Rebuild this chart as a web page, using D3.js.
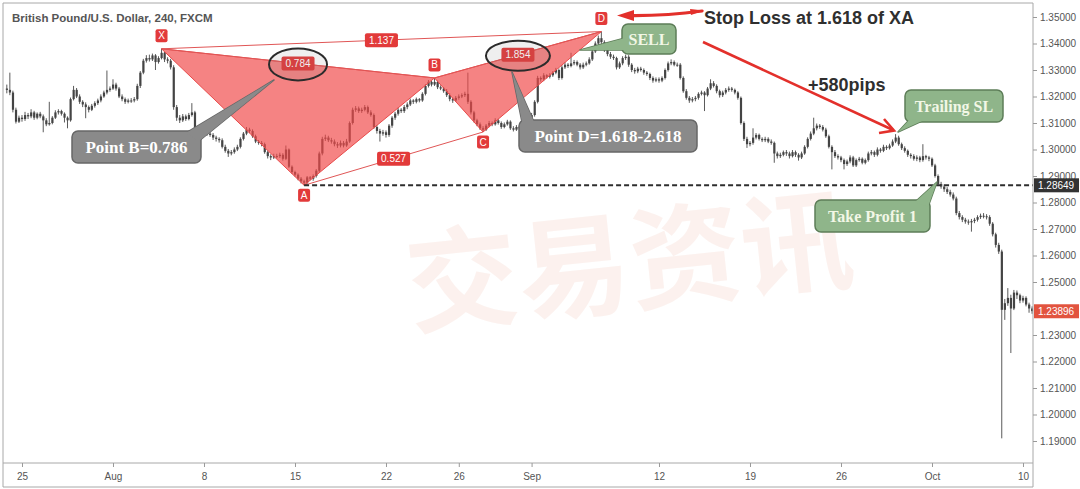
<!DOCTYPE html>
<html><head><meta charset="utf-8">
<script src="https://cdn.jsdelivr.net/npm/d3@7"></script>
<style>body{margin:0;background:#fff;} svg{display:block;}</style>
</head><body><svg id="c" width="1080" height="489"></svg>
<script>
// ---------------- data ----------------
const title = "British Pound/U.S. Dollar, 240, FXCM";
// 4-hour bars, first bar = Jul 22 (index 0); Jul 25 starts at index 5
const tickBars = [5, 35, 65, 95, 125, 149, 173, 215, 245, 275, 305, 335];
const tickLabels = ["25", "Aug", "8", "15", "22", "26", "Sep", "12", "19", "26", "Oct", "10"];
const priceTicks = [1.19, 1.20, 1.21, 1.22, 1.23, 1.25, 1.26, 1.27, 1.28, 1.29, 1.30, 1.31, 1.32, 1.33, 1.34, 1.35];

const opens = [
1.3230,1.3225,1.3215,1.3150,1.3105,
1.3120,1.3115,1.3130,1.3125,1.3140,1.3120,
1.3135,1.3125,1.3110,1.3095,1.3100,1.3120,
1.3140,1.3145,1.3135,1.3120,1.3110,1.3190,
1.3225,1.3200,1.3180,1.3170,1.3160,1.3150,
1.3165,1.3175,1.3185,1.3200,1.3215,1.3225,
1.3230,1.3245,1.3230,1.3200,1.3190,1.3180,
1.3185,1.3185,1.3190,1.3240,1.3290,1.3335,
1.3345,1.3340,1.3355,1.3330,1.3345,1.3365,
1.3340,1.3335,1.3310,1.3160,1.3120,1.3110,
1.3125,1.3115,1.3130,1.3140,1.3060,1.3050,
1.3065,1.3070,1.3060,1.3055,1.3045,1.3040,
1.3035,1.3010,1.2995,1.2985,1.2990,1.3000,
1.3010,1.3040,1.3060,1.3075,1.3070,1.3050,
1.3030,1.3025,1.3020,1.2990,1.2975,1.2970,
1.2975,1.2975,1.2980,1.2965,1.3000,1.2935,
1.2915,1.2905,1.2890,1.2880,1.2875,1.2895,
1.2890,1.2900,1.2920,1.2985,1.3040,1.3045,
1.3035,1.3030,1.3020,1.3015,1.3025,1.3015,
1.3030,1.3100,1.3150,1.3155,1.3145,1.3150,
1.3160,1.3140,1.3130,1.3085,1.3070,1.3060,
1.3065,1.3055,1.3090,1.3120,1.3135,1.3150,
1.3145,1.3160,1.3170,1.3185,1.3180,1.3190,
1.3185,1.3210,1.3240,1.3255,1.3245,1.3255,
1.3235,1.3230,1.3220,1.3205,1.3190,1.3185,
1.3195,1.3200,1.3205,1.3210,1.3180,1.3140,
1.3110,1.3095,1.3080,1.3075,1.3090,1.3100,
1.3095,1.3110,1.3100,1.3085,1.3095,1.3105,
1.3080,1.3075,1.3085,1.3080,1.3110,1.3125,
1.3120,1.3130,1.3180,1.3270,1.3265,1.3280,
1.3275,1.3280,1.3290,1.3300,1.3270,1.3310,
1.3320,1.3315,1.3325,1.3330,1.3320,1.3310,
1.3320,1.3325,1.3340,1.3370,1.3400,1.3420,
1.3405,1.3375,1.3360,1.3350,1.3345,1.3310,
1.3325,1.3345,1.3350,1.3320,1.3300,1.3295,
1.3305,1.3300,1.3290,1.3285,1.3270,1.3260,
1.3265,1.3260,1.3270,1.3300,1.3325,1.3330,
1.3320,1.3320,1.3270,1.3220,1.3195,1.3185,
1.3190,1.3195,1.3210,1.3215,1.3205,1.3230,
1.3250,1.3240,1.3220,1.3205,1.3215,1.3225,
1.3230,1.3225,1.3215,1.3195,1.3100,1.3040,
1.3020,1.3025,1.3045,1.3055,1.3040,1.3035,
1.3040,1.3030,1.3025,1.2985,1.2975,1.2980,
1.2990,1.2985,1.2975,1.2990,1.2980,1.2970,
1.2985,1.3010,1.3040,1.3060,1.3080,1.3090,
1.3085,1.3075,1.3050,1.3010,1.2990,1.2975,
1.2970,1.2960,1.2945,1.2955,1.2970,1.2940,
1.2960,1.2965,1.2950,1.2960,1.2985,1.2990,
1.2980,1.3000,1.2995,1.3010,1.3005,1.3015,
1.3030,1.3045,1.3020,1.3005,1.2995,1.2980,
1.2975,1.2965,1.2970,1.2960,1.2975,1.2970,
1.2965,1.2940,1.2900,1.2870,1.2860,1.2850,
1.2840,1.2830,1.2815,1.2760,1.2745,1.2735,
1.2728,1.2725,1.2730,1.2735,1.2745,1.2750,
1.2748,1.2745,1.2720,1.2680,1.2640,1.2615,
1.2395,1.2420,1.2440,1.2400,1.2460,1.2450,
1.2430,1.2440,1.2415,1.2400];

const highs = [
1.3245,1.3290,1.3222,1.3158,1.3128,
1.3130,1.3142,1.3138,1.3152,1.3146,1.3140,
1.3142,1.3132,1.3118,1.3180,1.3126,1.3148,
1.3152,1.3150,1.3140,1.3125,1.3196,1.3240,
1.3232,1.3208,1.3186,1.3178,1.3166,1.3172,
1.3182,1.3192,1.3208,1.3222,1.3298,1.3238,
1.3265,1.3252,1.3236,1.3208,1.3196,1.3192,
1.3194,1.3198,1.3248,1.3296,1.3342,1.3356,
1.3358,1.3362,1.3360,1.3352,1.3380,1.3368,
1.3348,1.3342,1.3318,1.3168,1.3130,1.3134,
1.3132,1.3138,1.3175,1.3146,1.3068,1.3072,
1.3080,1.3076,1.3068,1.3062,1.3052,1.3046,
1.3042,1.3018,1.3002,1.2998,1.3008,1.3018,
1.3046,1.3066,1.3085,1.3082,1.3076,1.3056,
1.3036,1.3032,1.3026,1.2996,1.2982,1.2984,
1.2984,1.2988,1.2986,1.3015,1.3004,1.2940,
1.2920,1.2910,1.2896,1.2886,1.2900,1.2900,
1.2906,1.2926,1.2992,1.3048,1.3056,1.3052,
1.3044,1.3038,1.3028,1.3034,1.3032,1.3040,
1.3106,1.3158,1.3164,1.3162,1.3158,1.3168,
1.3166,1.3148,1.3136,1.3092,1.3078,1.3074,
1.3072,1.3096,1.3126,1.3142,1.3158,1.3156,
1.3168,1.3178,1.3192,1.3190,1.3196,1.3194,
1.3216,1.3246,1.3262,1.3260,1.3270,1.3260,
1.3242,1.3236,1.3228,1.3212,1.3196,1.3202,
1.3208,1.3212,1.3218,1.3290,1.3186,1.3146,
1.3116,1.3102,1.3088,1.3096,1.3108,1.3106,
1.3118,1.3116,1.3106,1.3102,1.3112,1.3110,
1.3088,1.3092,1.3090,1.3116,1.3132,1.3130,
1.3138,1.3186,1.3278,1.3276,1.3288,1.3284,
1.3288,1.3296,1.3308,1.3306,1.3318,1.3330,
1.3326,1.3365,1.3338,1.3336,1.3326,1.3328,
1.3332,1.3348,1.3378,1.3408,1.3430,1.3445,
1.3412,1.3384,1.3368,1.3358,1.3350,1.3332,
1.3352,1.3358,1.3356,1.3326,1.3308,1.3312,
1.3312,1.3306,1.3296,1.3290,1.3276,1.3272,
1.3272,1.3276,1.3306,1.3332,1.3340,1.3336,
1.3328,1.3326,1.3276,1.3228,1.3202,1.3198,
1.3202,1.3216,1.3222,1.3220,1.3236,1.3265,
1.3258,1.3246,1.3226,1.3222,1.3232,1.3238,
1.3236,1.3230,1.3220,1.3200,1.3106,1.3048,
1.3032,1.3080,1.3062,1.3060,1.3046,1.3048,
1.3046,1.3038,1.3030,1.2992,1.2988,1.2996,
1.2998,1.2992,1.2998,1.2996,1.2986,1.2992,
1.3016,1.3046,1.3068,1.3120,1.3098,1.3096,
1.3092,1.3082,1.3056,1.3016,1.2998,1.2982,
1.2976,1.2966,1.2962,1.2978,1.2976,1.2966,
1.2972,1.2970,1.2966,1.2992,1.2998,1.2996,
1.3008,1.3006,1.3018,1.3016,1.3022,1.3038,
1.3058,1.3052,1.3026,1.3012,1.3000,1.2986,
1.2982,1.2978,1.2976,1.3020,1.2980,1.2976,
1.2970,1.2946,1.2906,1.2878,1.2868,1.2858,
1.2848,1.2838,1.2822,1.2768,1.2752,1.2742,
1.2736,1.2738,1.2742,1.2752,1.2758,1.2760,
1.2756,1.2752,1.2726,1.2686,1.2648,1.2622,
1.2436,1.2477,1.2452,1.2470,1.2468,1.2456,
1.2448,1.2446,1.2422,1.2408];

const lows = [
1.3212,1.3205,1.3140,1.3098,1.3100,
1.3105,1.3108,1.3115,1.3118,1.3112,1.3114,
1.3118,1.3065,1.3088,1.3090,1.3095,1.3115,
1.3132,1.3128,1.3102,1.3080,1.3105,1.3185,
1.3194,1.3172,1.3160,1.3118,1.3140,1.3145,
1.3158,1.3168,1.3178,1.3195,1.3208,1.3218,
1.3225,1.3222,1.3194,1.3182,1.3172,1.3174,
1.3176,1.3178,1.3184,1.3232,1.3284,1.3328,
1.3332,1.3334,1.3300,1.3324,1.3340,1.3330,
1.3325,1.3302,1.3150,1.3108,1.3100,1.3104,
1.3108,1.3110,1.3124,1.3052,1.3040,1.3044,
1.3058,1.3052,1.3048,1.3036,1.3030,1.3026,
1.3004,1.2988,1.2972,1.2978,1.2984,1.2994,
1.3004,1.3034,1.3054,1.3062,1.3044,1.3024,
1.3018,1.3012,1.2984,1.2966,1.2960,1.2964,
1.2966,1.2968,1.2958,1.2960,1.2930,1.2908,
1.2898,1.2884,1.2872,1.2865,1.2870,1.2884,
1.2882,1.2894,1.2914,1.2978,1.3032,1.3028,
1.3022,1.3012,1.3006,1.3008,1.3008,1.3010,
1.3025,1.3094,1.3142,1.3138,1.3138,1.3144,
1.3134,1.3124,1.3078,1.3060,1.3030,1.3052,
1.3045,1.3048,1.3082,1.3112,1.3128,1.3138,
1.3138,1.3152,1.3164,1.3172,1.3174,1.3178,
1.3180,1.3204,1.3234,1.3238,1.3240,1.3228,
1.3224,1.3214,1.3198,1.3182,1.3176,1.3180,
1.3188,1.3194,1.3198,1.3172,1.3132,1.3102,
1.3088,1.3074,1.3066,1.3070,1.3084,1.3088,
1.3090,1.3094,1.3078,1.3080,1.3090,1.3074,
1.3068,1.3070,1.3074,1.3076,1.3104,1.3112,
1.3114,1.3124,1.3174,1.3256,1.3258,1.3268,
1.3268,1.3274,1.3284,1.3262,1.3264,1.3304,
1.3308,1.3310,1.3318,1.3314,1.3302,1.3304,
1.3314,1.3320,1.3334,1.3364,1.3392,1.3396,
1.3368,1.3352,1.3342,1.3338,1.3302,1.3304,
1.3318,1.3338,1.3312,1.3292,1.3286,1.3288,
1.3294,1.3282,1.3278,1.3262,1.3252,1.3254,
1.3252,1.3254,1.3264,1.3294,1.3318,1.3314,
1.3312,1.3264,1.3214,1.3188,1.3176,1.3178,
1.3182,1.3188,1.3204,1.3145,1.3200,1.3224,
1.3234,1.3212,1.3196,1.3198,1.3208,1.3218,
1.3218,1.3208,1.3188,1.3094,1.3032,1.3006,
1.3012,1.3018,1.3038,1.3034,1.3028,1.3028,
1.3024,1.3018,1.2950,1.2966,1.2968,1.2974,
1.2976,1.2966,1.2970,1.2972,1.2958,1.2964,
1.2980,1.3004,1.3034,1.3054,1.3072,1.3078,
1.3068,1.3044,1.3004,1.2925,1.2968,1.2962,
1.2952,1.2925,1.2938,1.2948,1.2934,1.2934,
1.2954,1.2944,1.2944,1.2954,1.2978,1.2972,
1.2974,1.2988,1.2990,1.2998,1.3000,1.3010,
1.3024,1.3014,1.2998,1.2988,1.2972,1.2966,
1.2958,1.2956,1.2952,1.2954,1.2962,1.2956,
1.2934,1.2894,1.2862,1.2852,1.2840,1.2832,
1.2822,1.2808,1.2752,1.2736,1.2726,1.2720,
1.2716,1.2690,1.2722,1.2728,1.2738,1.2740,
1.2736,1.2712,1.2672,1.2630,1.2606,1.1910,
1.2357,1.2410,1.2232,1.2394,1.2436,1.2420,
1.2422,1.2408,1.2384,1.2380];

const closes = [
1.3225,1.3215,1.3150,1.3105,1.3120,
1.3115,1.3130,1.3125,1.3140,1.3120,1.3135,
1.3125,1.3110,1.3095,1.3100,1.3120,1.3140,
1.3145,1.3135,1.3120,1.3110,1.3190,1.3225,
1.3200,1.3180,1.3170,1.3160,1.3150,1.3165,
1.3175,1.3185,1.3200,1.3215,1.3225,1.3230,
1.3245,1.3230,1.3200,1.3190,1.3180,1.3185,
1.3185,1.3190,1.3240,1.3290,1.3335,1.3345,
1.3340,1.3355,1.3330,1.3345,1.3365,1.3340,
1.3335,1.3310,1.3160,1.3120,1.3110,1.3125,
1.3115,1.3130,1.3140,1.3060,1.3050,1.3065,
1.3070,1.3060,1.3055,1.3045,1.3040,1.3035,
1.3010,1.2995,1.2985,1.2990,1.3000,1.3010,
1.3040,1.3060,1.3075,1.3070,1.3050,1.3030,
1.3025,1.3020,1.2990,1.2975,1.2970,1.2975,
1.2975,1.2980,1.2965,1.3000,1.2935,1.2915,
1.2905,1.2890,1.2880,1.2875,1.2895,1.2890,
1.2900,1.2920,1.2985,1.3040,1.3045,1.3035,
1.3030,1.3020,1.3015,1.3025,1.3015,1.3030,
1.3100,1.3150,1.3155,1.3145,1.3150,1.3160,
1.3140,1.3130,1.3085,1.3070,1.3060,1.3065,
1.3055,1.3090,1.3120,1.3135,1.3150,1.3145,
1.3160,1.3170,1.3185,1.3180,1.3190,1.3185,
1.3210,1.3240,1.3255,1.3245,1.3255,1.3235,
1.3230,1.3220,1.3205,1.3190,1.3185,1.3195,
1.3200,1.3205,1.3210,1.3180,1.3140,1.3110,
1.3095,1.3080,1.3075,1.3090,1.3100,1.3095,
1.3110,1.3100,1.3085,1.3095,1.3105,1.3080,
1.3075,1.3085,1.3080,1.3110,1.3125,1.3120,
1.3130,1.3180,1.3270,1.3265,1.3280,1.3275,
1.3280,1.3290,1.3300,1.3270,1.3310,1.3320,
1.3315,1.3325,1.3330,1.3320,1.3310,1.3320,
1.3325,1.3340,1.3370,1.3400,1.3420,1.3405,
1.3375,1.3360,1.3350,1.3345,1.3310,1.3325,
1.3345,1.3350,1.3320,1.3300,1.3295,1.3305,
1.3300,1.3290,1.3285,1.3270,1.3260,1.3265,
1.3260,1.3270,1.3300,1.3325,1.3330,1.3320,
1.3320,1.3270,1.3220,1.3195,1.3185,1.3190,
1.3195,1.3210,1.3215,1.3205,1.3230,1.3250,
1.3240,1.3220,1.3205,1.3215,1.3225,1.3230,
1.3225,1.3215,1.3195,1.3100,1.3040,1.3020,
1.3025,1.3045,1.3055,1.3040,1.3035,1.3040,
1.3030,1.3025,1.2985,1.2975,1.2980,1.2990,
1.2985,1.2975,1.2990,1.2980,1.2970,1.2985,
1.3010,1.3040,1.3060,1.3080,1.3090,1.3085,
1.3075,1.3050,1.3010,1.2990,1.2975,1.2970,
1.2960,1.2945,1.2955,1.2970,1.2940,1.2960,
1.2965,1.2950,1.2960,1.2985,1.2990,1.2980,
1.3000,1.2995,1.3010,1.3005,1.3015,1.3030,
1.3045,1.3020,1.3005,1.2995,1.2980,1.2975,
1.2965,1.2970,1.2960,1.2975,1.2970,1.2965,
1.2940,1.2900,1.2870,1.2860,1.2850,1.2840,
1.2830,1.2815,1.2760,1.2745,1.2735,1.2728,
1.2725,1.2730,1.2735,1.2745,1.2750,1.2748,
1.2745,1.2720,1.2680,1.2640,1.2615,1.2395,
1.2420,1.2440,1.2400,1.2460,1.2450,1.2430,
1.2440,1.2415,1.2400,1.2390];

// harmonic pattern points
const patternNames = ["X", "A", "B", "C", "D"];
const patternBars = [51, 98, 141, 157, 196];
const patternPrices = [1.3380, 1.2865, 1.3270, 1.3066, 1.3445];
const ratioLabels = ["0.784", "1.137", "0.527", "1.854"];   // XB, XD, AC, BD
const ratioPairs = [[0, 2], [0, 4], [1, 3], [2, 4]];
const takeProfit = 1.28649;
const lastPrice = 1.23896;

// ---------------- drawing ----------------
const svg = d3.select("#c");
const L = 3, R = 1033, T = 3, B = 463;
const x = d3.scaleLinear().domain([-0.6, 338.3]).range([5, 1033]);
const y = d3.scaleLinear().domain([1.19, 1.35]).range([441, 17]);

svg.append("rect").attr("width", 1080).attr("height", 489).attr("fill", "#fff");

svg.append("defs").append("clipPath").attr("id", "plot")
  .append("rect").attr("x", L).attr("y", T).attr("width", R - L).attr("height", B - T);

// faint watermark
svg.append("text").attr("x", 405).attr("y", 310).attr("font-size", 112)
  .attr("fill", "#f6d3c8").attr("opacity", 0.3)
  .attr("transform", "rotate(-6,560,260)")
  .style("font-family", "'Noto Sans CJK SC'").style("font-weight", "bold").text("交易资讯");

const plot = svg.append("g").attr("clip-path", "url(#plot)");

// candles
const idx = d3.range(closes.length);
const cg = plot.append("g");
cg.selectAll("line.wick").data(idx).join("line").attr("class", "wick")
  .attr("x1", i => x(i)).attr("x2", i => x(i))
  .attr("y1", i => y(highs[i])).attr("y2", i => y(lows[i]))
  .attr("stroke", "#5a5a5a").attr("stroke-width", 1);
cg.selectAll("rect.body").data(idx).join("rect").attr("class", "body")
  .attr("x", i => x(i) - 1).attr("width", 2.2)
  .attr("y", i => y(Math.max(opens[i], closes[i])))
  .attr("height", i => Math.max(1, Math.abs(y(opens[i]) - y(closes[i]))))
  .attr("fill", "#444");

// pattern
const P = patternNames.map((n, k) => ({ n, px: x(patternBars[k]), py: y(patternPrices[k]) }));
const poly = pts => pts.map(p => p.px + "," + p.py).join(" ");
plot.append("polygon").attr("points", poly([P[0], P[1], P[2]]))
  .attr("fill", "#f04848").attr("fill-opacity", 0.68).attr("stroke", "#e84a4a").attr("stroke-width", 1);
plot.append("polygon").attr("points", poly([P[2], P[3], P[4]]))
  .attr("fill", "#f04848").attr("fill-opacity", 0.68).attr("stroke", "#e84a4a").attr("stroke-width", 1);
ratioPairs.forEach(([a, b]) => {
  plot.append("line").attr("x1", P[a].px).attr("y1", P[a].py).attr("x2", P[b].px).attr("y2", P[b].py)
    .attr("stroke", "#e05656").attr("stroke-width", 1);
});

// take-profit dashed line
plot.append("line").attr("x1", P[1].px).attr("x2", R).attr("y1", y(takeProfit)).attr("y2", y(takeProfit))
  .attr("stroke", "#2e2e2e").attr("stroke-width", 2).attr("stroke-dasharray", "5,3");

// ratio labels
const redBox = "#e23a3a";
ratioPairs.forEach(([a, b], k) => {
  const cx = (P[a].px + P[b].px) / 2, cy = (P[a].py + P[b].py) / 2;
  const g = svg.append("g");
  const t = g.append("text").attr("x", cx).attr("y", cy + 3.6).attr("text-anchor", "middle")
    .attr("fill", "#fff").style("font", "10px 'Liberation Sans', Arial").text(ratioLabels[k]);
  const w = t.node().getComputedTextLength() + 8;
  g.insert("rect", "text").attr("x", cx - w / 2).attr("y", cy - 7).attr("width", w).attr("height", 14)
    .attr("rx", 2).attr("fill", redBox);
});

// point labels
P.forEach((p, k) => {
  const above = (k % 2 === 0);
  const cy = above ? p.py - 13 : p.py + 10;
  svg.append("rect").attr("x", p.px - 6).attr("y", cy - 6.5).attr("width", 12).attr("height", 13)
    .attr("rx", 2).attr("fill", redBox);
  svg.append("text").attr("x", p.px).attr("y", cy + 3.5).attr("text-anchor", "middle").attr("fill", "#fff")
    .style("font", "10px 'Liberation Sans', Arial").text(p.n);
});

// ellipses around XB and BD ratios
[[0, 2, 29, 16], [2, 4, 32, 15]].forEach(([a, b, rx, ry]) => {
  svg.append("ellipse").attr("cx", (P[a].px + P[b].px) / 2).attr("cy", (P[a].py + P[b].py) / 2 + 1)
    .attr("rx", rx).attr("ry", ry).attr("fill", "rgba(120,120,120,0.12)").attr("stroke", "#2b2b2b").attr("stroke-width", 2);
});

// callouts
function callout(bx, by, bw, bh, tail, fill, stroke, txt, tcol, fsize) {
  const g = svg.append("g");
  g.append("polygon").attr("points", tail.map(d => d.join(",")).join(" "))
    .attr("fill", fill).attr("stroke", stroke).attr("stroke-width", 1.5).attr("stroke-linejoin", "round");
  g.append("rect").attr("x", bx).attr("y", by).attr("width", bw).attr("height", bh).attr("rx", 6)
    .attr("fill", fill).attr("stroke", stroke).attr("stroke-width", 1.5);
  g.append("polygon").attr("points", tail.map(d => d.join(",")).join(" ")).attr("fill", fill);
  g.append("text").attr("x", bx + bw / 2).attr("y", by + bh / 2 + fsize * 0.35).attr("text-anchor", "middle")
    .attr("fill", tcol).style("font", `bold ${fsize}px 'Liberation Serif', 'DejaVu Serif', serif`).text(txt);
}
const grayF = "#8a8a8a", grayS = "#676767", greenF = "#8fb58a", greenS = "#5d7d58", greenT = "#f2f7e6";
callout(72, 131, 129, 32, [[186, 133], [199, 141], [274, 80]], grayF, grayS, "Point B=0.786", "#fff", 17);
callout(519, 120, 178, 32, [[522, 122], [534, 122], [512, 72]], grayF, grayS, "Point D=1.618-2.618", "#fff", 17);
callout(622, 24, 54, 30, [[625, 38], [625, 50], [580, 50]], greenF, greenS, "SELL", greenT, 16);
callout(905, 90, 98, 32, [[910, 119], [922, 121], [898, 132]], greenF, greenS, "Trailing SL", greenT, 16);
callout(815, 200, 115, 32, [[915, 202], [928, 207], [937, 182]], greenF, greenS, "Take Profit 1", greenT, 16);

// red arrows
const red = "#e3302b";
svg.append("path").attr("d", "M628,15.5 Q665,16 702,11").attr("fill", "none").attr("stroke", red).attr("stroke-width", 3.2).attr("stroke-linecap", "round");
svg.append("polygon").attr("points", "617,15.5 634,10 634,21").attr("fill", red);
svg.append("polygon").attr("points", "704,10.5 690,9 691,15").attr("fill", red);
svg.append("line").attr("x1", 703).attr("y1", 42).attr("x2", 893).attr("y2", 130).attr("stroke", red).attr("stroke-width", 2.6);
svg.append("polyline").attr("points", "879,133 894,130.5 884,119").attr("fill", "none").attr("stroke", red).attr("stroke-width", 2.6).attr("stroke-linejoin", "miter");

svg.append("text").attr("x", 704).attr("y", 24).attr("fill", "#2f2f2f")
  .style("font", "bold 18px 'Liberation Sans', Arial").text("Stop Loss at 1.618 of XA");
svg.append("text").attr("x", 808).attr("y", 91).attr("fill", "#2f2f2f")
  .style("font", "bold 18px 'Liberation Sans', Arial").text("+580pips");

// title
svg.append("text").attr("x", 12).attr("y", 22).attr("fill", "#555")
  .style("font", "600 11.5px 'Liberation Sans', Arial").text(title);

// frame
const frame = svg.append("g").attr("stroke", "#a8a8a8").attr("fill", "none");
frame.append("line").attr("x1", L).attr("x2", L).attr("y1", T).attr("y2", 487);
frame.append("line").attr("x1", L).attr("x2", R).attr("y1", T).attr("y2", T);
frame.append("line").attr("x1", R).attr("x2", R).attr("y1", T).attr("y2", 487);
frame.append("line").attr("x1", L).attr("x2", R).attr("y1", B).attr("y2", B);
frame.append("line").attr("x1", L).attr("x2", R).attr("y1", 487).attr("y2", 487);

// axes
const ya = svg.append("g").attr("transform", `translate(${R},0)`)
  .call(d3.axisRight(y).tickValues(priceTicks).tickFormat(d3.format(".5f")).tickSize(4).tickPadding(3));
ya.select(".domain").remove();
ya.selectAll("line").attr("stroke", "#999");
ya.selectAll("text").attr("fill", "#555").style("font", "10px 'Liberation Sans', Arial");

const xa = svg.append("g").attr("transform", `translate(0,${B})`)
  .call(d3.axisBottom(x).tickValues(tickBars).tickFormat((d, i) => tickLabels[i]).tickSize(4).tickPadding(6));
xa.select(".domain").remove();
xa.selectAll("line").attr("stroke", "#999");
xa.selectAll("text").attr("fill", "#555").style("font", "10px 'Liberation Sans Narrow', 'Liberation Sans', Arial");

// price tags
[[takeProfit, "#333"], [lastPrice, "#e2543f"]].forEach(([v, col]) => {
  const yy = y(v);
  svg.append("rect").attr("x", R + 1).attr("y", yy - 7).attr("width", 45).attr("height", 14).attr("fill", col);
  svg.append("text").attr("x", R + 5).attr("y", yy + 3.6).attr("fill", "#fff")
    .style("font", "10px 'Liberation Sans', Arial").text(d3.format(".5f")(v));
});
</script></body></html>
